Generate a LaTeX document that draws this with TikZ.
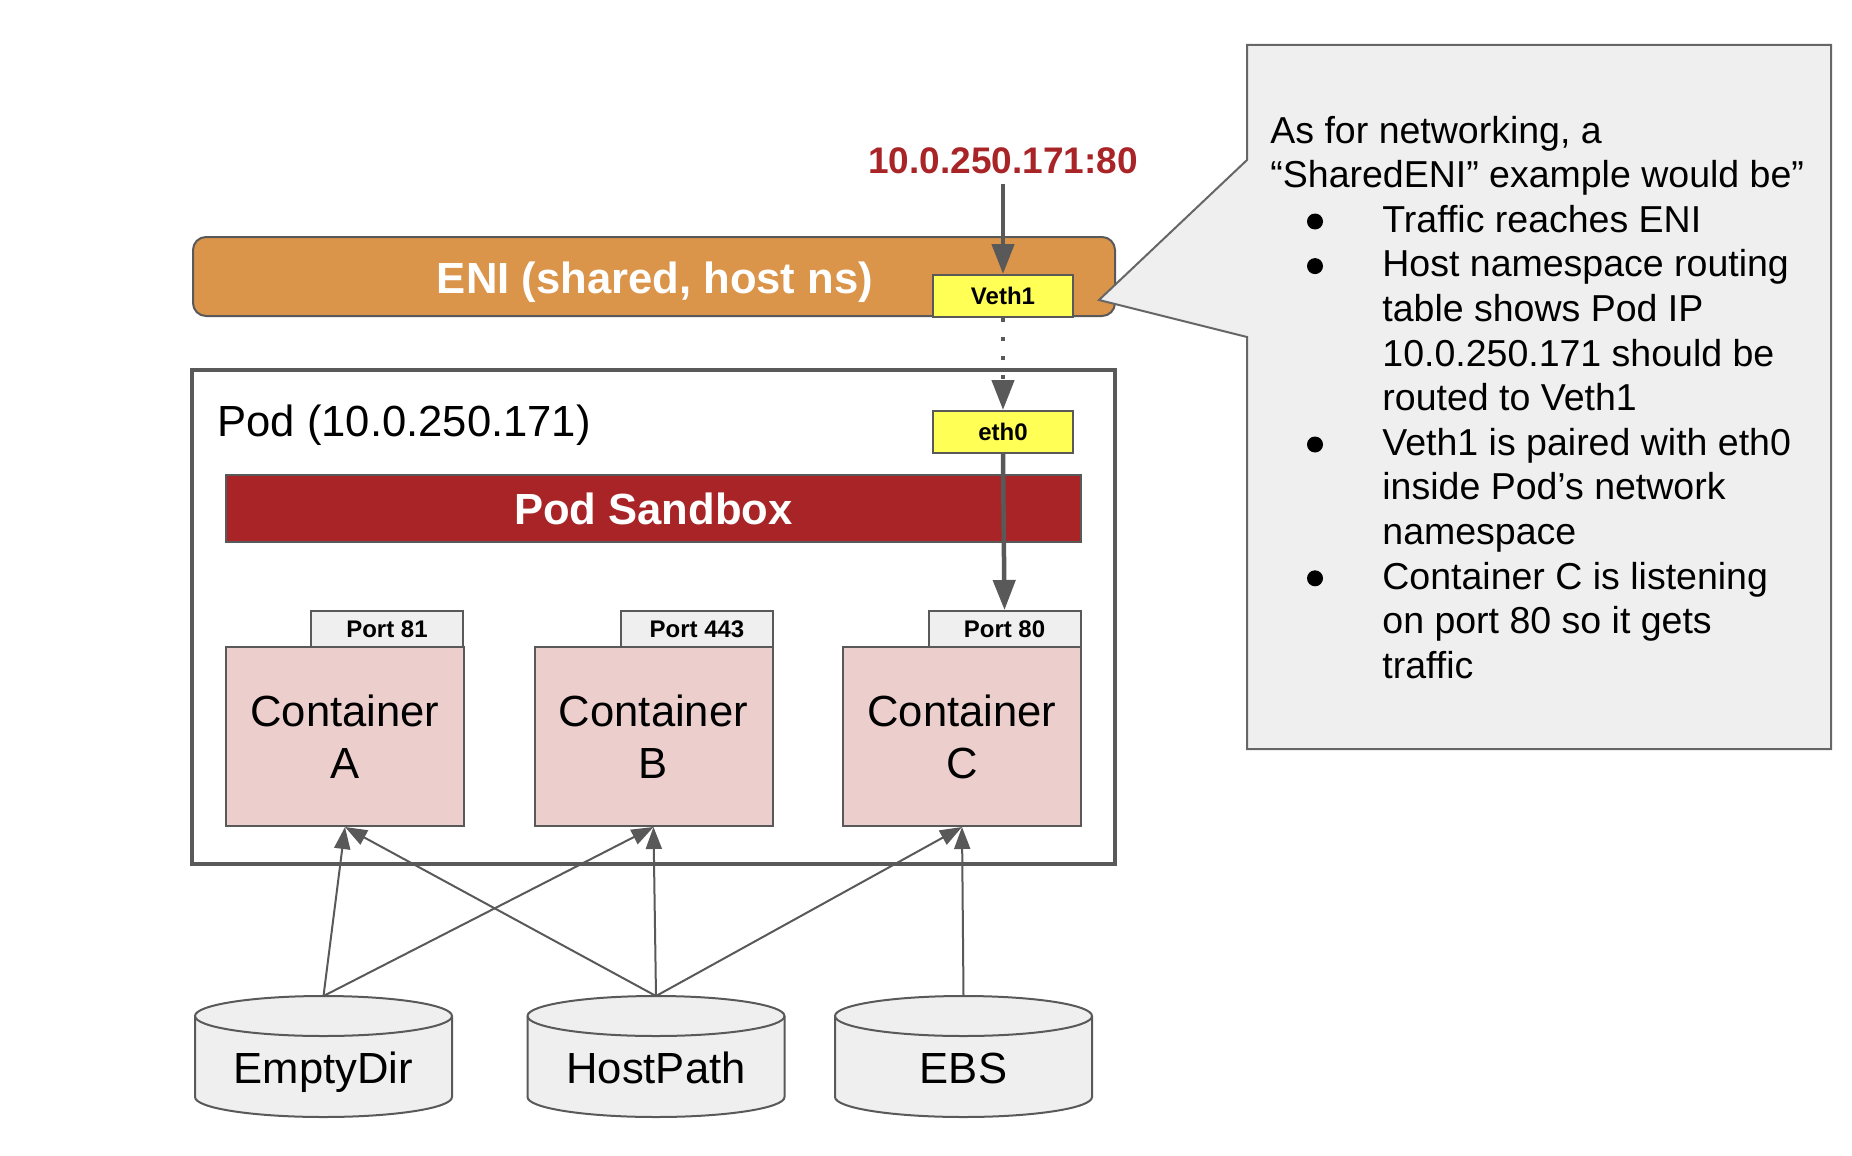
\documentclass[tikz,border=0pt]{standalone}
\usepackage{fontspec}
\setmainfont{Liberation Sans}
\usetikzlibrary{arrows.meta}
\definecolor{bordergray}{HTML}{595959}
\definecolor{enio}{RGB}{219,149,75}
\definecolor{sbred}{RGB}{168,36,39}
\definecolor{contpink}{RGB}{236,206,205}
\definecolor{lgray}{HTML}{EFEFEF}
\definecolor{yel}{RGB}{255,255,85}
\definecolor{callgray}{HTML}{666666}
\newcommand{\cylbody}[1]{%
  \filldraw[cyl] (#1-128.5,1016) -- (#1-128.5,1097) arc[start angle=180,end angle=360,x radius=64.25pt,y radius=10pt] -- (#1+128.5,1016) arc[start angle=0,end angle=180,x radius=64.25pt,y radius=10pt] -- cycle;
  \draw[cyl,fill=none] (#1-128.5,1016) arc[start angle=180,end angle=360,x radius=64.25pt,y radius=10pt];}
\begin{document}
\begin{tikzpicture}[x=0.5pt,y=-0.5pt,
  box/.style={draw=bordergray,line width=1pt,rectangle,inner sep=0pt},
  iface/.style={box,fill=yel,minimum width=70pt,minimum height=21pt,font=\fontsize{12}{14}\selectfont\bfseries},
  porttab/.style={box,fill=lgray,minimum width=76pt,minimum height=18pt,font=\fontsize{12}{14}\selectfont\bfseries},
  cont/.style={box,fill=contpink,minimum width=119pt,minimum height=89.5pt,align=center,font=\fontsize{21.8}{26}\selectfont},
  thickarrow/.style={draw=bordergray,line width=2.25pt,-{Triangle[length=15pt,width=11pt]}},
  thinarrow/.style={draw=bordergray,line width=1pt,-{Triangle[length=11pt,width=8pt]}},
  cyl/.style={draw=bordergray,line width=1pt,fill=lgray},
  cyltext/.style={anchor=base,inner sep=0pt,font=\fontsize{21.8}{26}\selectfont},
  note/.style={anchor=base west,inner sep=0pt,font=\fontsize{18.75}{22.5}\selectfont},
  bulletdot/.style={circle,fill=black,inner sep=0pt,minimum size=8pt},
]
\useasboundingbox (0,0) rectangle (1852,1156);

% ENI
\node[box,fill=enio,rounded corners=6.5pt,minimum width=461pt,minimum height=39.5pt] (eni) at (654,276.5) {};
\node[anchor=base,inner sep=0pt,text=white,font=\fontsize{21.8}{26}\selectfont\bfseries] (enitext) at (655,293) {ENI (shared, host ns)};
\node[iface] (veth) at (1003,296) {Veth1};
\node[anchor=base,inner sep=5pt,text=sbred,font=\fontsize{18.5}{22}\selectfont\bfseries] (ip) at (1003,173) {10.0.250.171:80};

% Pod
\node[box,draw=bordergray,line width=2pt,minimum width=461.5pt,minimum height=247pt] (pod) at (653.5,617) {};
\node[anchor=base west,inner sep=0pt,font=\fontsize{21.8}{26}\selectfont] (podlabel) at (217,436) {Pod (10.0.250.171)};
\node[box,fill=sbred,text=white,minimum width=427.5pt,minimum height=33.5pt,font=\fontsize{21.8}{26}\selectfont\bfseries] (sandbox) at (653.5,508.5) {Pod Sandbox};
\node[iface] (eth) at (1003,432) {eth0};

% containers
\node[porttab] (pa) at (387,629) {Port 81};
\node[porttab] (pb) at (697,629) {Port 443};
\node[porttab] (pc) at (1004.5,629) {Port 80};
\node[cont] (A) at (345,736.5) {Container\\A};
\node[cont] (B) at (653.5,736.5) {Container\\B};
\node[cont] (C) at (962,736.5) {Container\\C};

% network arrows
\draw[thickarrow] (ip.south) -- (veth.north);
\draw[thickarrow,dash pattern=on 2pt off 7.5pt] (veth.south) -- (eth.north);
\draw[thickarrow] (eth.south) -- (pc.north);

% volumes
\cylbody{323.5}
\cylbody{656}
\cylbody{963.5}
\coordinate (edtop) at (323.5,996);
\coordinate (hptop) at (656,996);
\coordinate (ebstop) at (963.5,996);
\node[cyltext] (ed) at (323.5,1083) {EmptyDir};
\node[cyltext] (hp) at (656,1083) {HostPath};
\node[cyltext] (ebs) at (963.5,1083) {EBS};

\draw[thinarrow] (edtop) -- (A.south);
\draw[thinarrow] (edtop) -- (B.south);
\draw[thinarrow] (hptop) -- (A.south);
\draw[thinarrow] (hptop) -- (B.south);
\draw[thinarrow] (hptop) -- (C.south);
\draw[thinarrow] (ebstop) -- (C.south);

% callout (drawn over the ENI bar)
\filldraw[fill=lgray,draw=callgray,line width=1pt] (1247,45) -- (1831,45) -- (1831,749) -- (1247,749) -- (1247,337) -- (1099,300) -- (1247,160) -- cycle;
\node[note] (n1) at (1270,143) {As for networking, a};
\node[note] (n2) at (1270,187.6) {“SharedENI” example would be”};
\node[bulletdot] (b1) at (1315,221.5) {};
\node[note] (n3) at (1382,232.2) {Traffic reaches ENI};
\node[bulletdot] (b2) at (1315,266.1) {};
\node[note] (n4) at (1382,276.8) {Host namespace routing};
\node[note] (n5) at (1382,321.4) {table shows Pod IP};
\node[note] (n6) at (1382,366) {10.0.250.171 should be};
\node[note] (n7) at (1382,410.6) {routed to Veth1};
\node[bulletdot] (b3) at (1315,444.5) {};
\node[note] (n8) at (1382,455.2) {Veth1 is paired with eth0};
\node[note] (n9) at (1382,499.8) {inside Pod’s network};
\node[note] (n10) at (1382,544.4) {namespace};
\node[bulletdot] (b4) at (1315,578.3) {};
\node[note] (n11) at (1382,589) {Container C is listening};
\node[note] (n12) at (1382,633.6) {on port 80 so it gets};
\node[note] (n13) at (1382,678.2) {traffic};
\end{tikzpicture}
\end{document}
